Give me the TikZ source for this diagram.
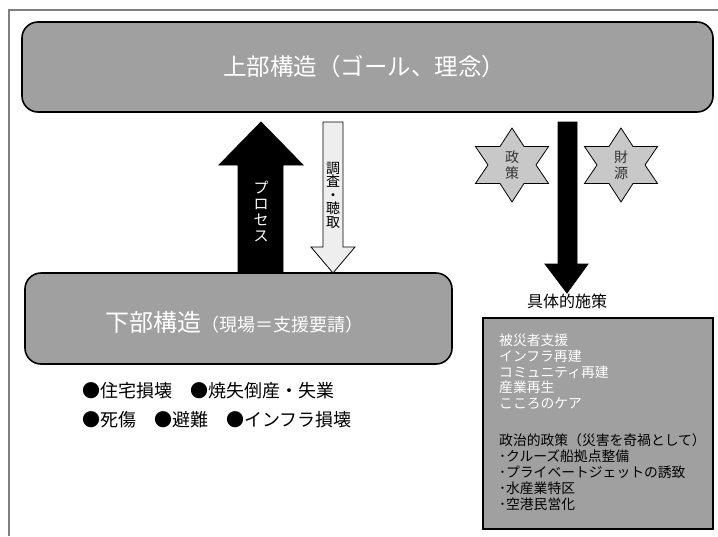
\documentclass[tikz,border=0pt]{standalone}
\usepackage{fontspec}
\setmainfont{Noto Sans CJK JP}
\usetikzlibrary{calc}
\definecolor{boxgray}{HTML}{9FA09F}
\definecolor{stargray}{HTML}{C8C8C8}
\definecolor{lightfill}{HTML}{EEEEEE}
\definecolor{framegray}{HTML}{7F7F7F}
\definecolor{startxt}{HTML}{333333}
\begin{document}
\begin{tikzpicture}[x=1pt,y=-1pt,
  roundbox/.style={draw=black, line width=1.6pt, fill=boxgray, rounded corners=16pt, inner sep=0pt},
  plainbox/.style={draw=black, line width=1.6pt, fill=boxgray, inner sep=0pt},
  blockarrow/.style={draw=black, line width=0.8pt},
  starshape/.style={draw=black, line width=0.8pt, fill=stargray, line join=miter},
  vtext/.style={align=center, inner sep=0pt},
  boxline/.style={anchor=west, inner sep=0pt, font=\fontsize{13.8}{13.8}\selectfont},
  bullets/.style={anchor=west, inner sep=0pt, font=\fontsize{18}{18}\selectfont}
]
\useasboundingbox (0,0) rectangle (718,536);
% frame
\draw[framegray, line width=1.5pt] (9,536) -- (9,10) -- (718,10);
% top box
\node[roundbox, minimum width=691pt, minimum height=90pt] (top) at (367.5,67) {};
\node[white, inner sep=0pt, font=\fontsize{23.5}{23.5}\selectfont] (toptext) at (364,67) {上部構造（ゴール、理念）};
% bottom box
\node[roundbox, minimum width=427pt, minimum height=91pt] (bottom) at (238.5,318.5) {};
\node[white, anchor=west, inner sep=0pt] (bottomtext) at (105,322) {\fontsize{24}{24}\selectfont 下部構造\fontsize{18}{18}\selectfont （現場＝支援要請）};
% right box
\node[plainbox, minimum width=230pt, minimum height=211pt] (measures) at (598,423.5) {};
% arrows
\draw[blockarrow, fill=black] (261,122) -- (303,165) -- (283,165) -- (283,273) -- (238,273) -- (238,165) -- (219,165) -- cycle;
\draw[blockarrow, fill=lightfill] (323,122) -- (343,122) -- (343,247) -- (355,247) -- (333,273) -- (311,247) -- (323,247) -- cycle;
\draw[blockarrow, fill=black] (558,122) -- (577,122) -- (577,264) -- (588,264) -- (567,293) -- (545,264) -- (558,264) -- cycle;
% arrow texts
\node[vtext, white, font=\fontsize{15}{16}\selectfont] (process) at (261,211) {プ\\ロ\\セ\\ス};
\node[vtext, black, font=\fontsize{14}{13.5}\selectfont] (survey) at (333,195) {調\\査\\・\\聴\\取};
% stars
\coordinate (star1) at (512,165);
\coordinate (star2) at (621,165);
\foreach \c in {star1,star2}{
  \draw[starshape] ($(\c)+(0,37)$)
    \foreach \a in {120,180,240,300,360,420}{
      -- ($(\c)+({24*cos(\a)},{21.4*sin(\a)})$) -- ($(\c)+({42.2*cos(\a+30)},{37*sin(\a+30)})$)
    } -- cycle;
}
\node[vtext, startxt, font=\fontsize{14}{16}\selectfont] (policy) at (star1) {政\\策};
\node[vtext, startxt, font=\fontsize{14}{16}\selectfont] (funds) at (star2) {財\\源};
% label
\node[inner sep=0pt, font=\fontsize{16}{16}\selectfont] (concrete) at (567,301) {具体的施策};
% box lines
\node[boxline, white] (w1) at (499,340) {被災者支援};
\node[boxline, white] (w2) at (499,356) {インフラ再建};
\node[boxline, white] (w3) at (499,372) {コミュニティ再建};
\node[boxline, white] (w4) at (499,387.5) {産業再生};
\node[boxline, white] (w5) at (499,403) {こころのケア};
\node[boxline] (b1) at (499,440) {政治的政策（災害を奇禍として）};
\node[boxline] (b2) at (499,456) {･クルーズ船拠点整備};
\node[boxline] (b3) at (499,472) {･プライベートジェットの誘致};
\node[boxline] (b4) at (499,488) {･水産業特区};
\node[boxline] (b5) at (499,504) {･空港民営化};
% bullets
\node[bullets] (d1) at (82,391) {●住宅損壊　●焼失倒産・失業};
\node[bullets] (d2) at (82,420) {●死傷　●避難　●インフラ損壊};
\end{tikzpicture}
\end{document}
